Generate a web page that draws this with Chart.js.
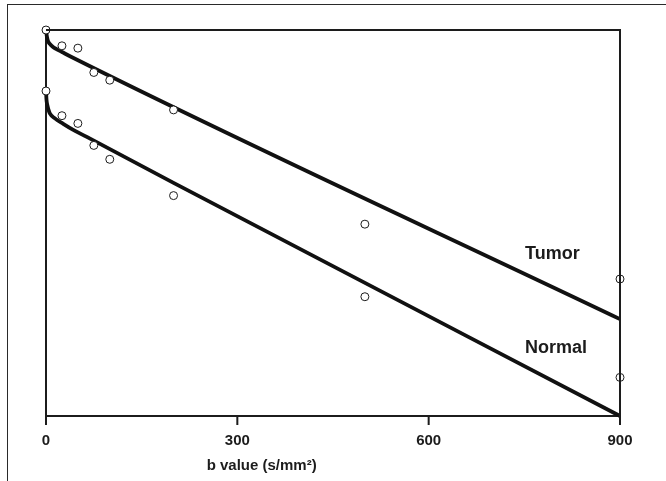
<!DOCTYPE html>
<html>
<head>
<meta charset="utf-8">
<style>
    html, body { margin: 0; padding: 0; background: #fff; overflow: hidden; }
    #wrap { position: relative; width: 666px; height: 481px; }
    #frame {
        position: absolute; left: 7px; top: 4px; right: 0; bottom: 0;
        border-left: 1px solid #2a2a2a; border-top: 1px solid #2a2a2a;
        pointer-events: none;
    }
</style>
<script src="https://cdn.jsdelivr.net/npm/chart.js@4/dist/chart.umd.min.js"></script>
</head>
<body>
<div id="wrap">
    <canvas id="ivim"></canvas>
    <div id="frame"></div>
</div>
<script>
// Measured signal (arbitrary units, axis unlabeled)
const bValues = [0, 25, 50, 75, 100, 200, 500, 900];
const tumorSignal = [100, 95.9, 95.3, 89.0, 87.0, 79.3, 49.7, 35.5];
const normalSignal = [84.2, 77.8, 75.8, 70.1, 66.5, 57.1, 30.9, 10.0];

// Fitted curves
const tumorFitB = [0, 1.5, 3, 6, 11, 17, 25, 40, 900];
const tumorFit = [100, 98.2, 97.2, 96.4, 95.6, 95.0, 94.3, 93.0, 25.1];
const normalFitB = [0, 0.8, 2, 4, 6, 14, 27, 42, 64, 200, 900];
const normalFit = [84.2, 81.9, 80.6, 79.3, 78.4, 77.1, 75.7, 74.2, 72.3, 60.4, 0];

const xTicks = [0, 300, 600, 900];
const seriesNames = ['Tumor', 'Normal'];
const xTitle = 'b value (s/mm\u00B2)';

const ink = '#1c1c1c';
const boldFont = '"Liberation Sans", Arial, sans-serif';

function toXY(xs, ys) {
    return xs.map((x, i) => ({ x: x, y: ys[i] }));
}

function pointSet(data) {
    return {
        data: data,
        showLine: false,
        pointRadius: 4,
        pointBorderWidth: 1,
        pointBorderColor: ink,
        pointBackgroundColor: '#fff',
        clip: false,
        order: 0
    };
}

function fitSet(data) {
    return {
        data: data,
        showLine: true,
        pointRadius: 0,
        borderColor: '#111',
        borderWidth: 3.8,
        cubicInterpolationMode: 'monotone',
        fill: false,
        clip: false,
        order: 1
    };
}

// box top/right, tick marks, series names, axis title
const decorations = {
    id: 'decorations',
    afterDatasetsDraw(chart) {
        const { ctx, chartArea: a, scales } = chart;
        ctx.save();
        ctx.strokeStyle = ink;
        ctx.lineWidth = 2;
        ctx.beginPath();
        ctx.moveTo(a.left, a.top);
        ctx.lineTo(a.right, a.top);
        ctx.lineTo(a.right, a.bottom);
        xTicks.forEach(v => {
            const px = scales.x.getPixelForValue(v);
            ctx.moveTo(px, a.bottom);
            ctx.lineTo(px, a.bottom + 9);
        });
        ctx.stroke();

        ctx.fillStyle = ink;
        ctx.font = 'bold 18px ' + boldFont;
        ctx.textAlign = 'left';
        ctx.textBaseline = 'middle';
        const lx = scales.x.getPixelForValue(751);
        ctx.fillText(seriesNames[0], lx, scales.y.getPixelForValue(42));
        ctx.fillText(seriesNames[1], lx, scales.y.getPixelForValue(17.7));

        ctx.font = 'bold 15px ' + boldFont;
        ctx.textAlign = 'center';
        ctx.fillText(xTitle, a.left + a.width * 0.3757, 466);
        ctx.restore();
    }
};

new Chart(document.getElementById('ivim'), {
    type: 'scatter',
    data: {
        datasets: [
            pointSet(toXY(bValues, tumorSignal)),
            pointSet(toXY(bValues, normalSignal)),
            fitSet(toXY(tumorFitB, tumorFit)),
            fitSet(toXY(normalFitB, normalFit))
        ]
    },
    options: {
        responsive: true,
        maintainAspectRatio: false,
        animation: false,
        layout: { padding: { left: 46, top: 30, right: 46, bottom: 0 } },
        plugins: {
            legend: { display: false },
            tooltip: { enabled: false }
        },
        scales: {
            x: {
                type: 'linear',
                min: 0,
                max: 900,
                afterFit(s) { s.height = 65; },
                afterBuildTicks(s) { s.ticks = xTicks.map(v => ({ value: v })); },
                ticks: {
                    color: ink,
                    padding: 8,
                    font: { family: boldFont, size: 15, weight: 'bold' },
                    maxRotation: 0
                },
                grid: { display: false },
                border: { display: true, color: ink, width: 2 }
            },
            y: {
                type: 'linear',
                min: 0,
                max: 100,
                afterFit(s) { s.width = 0; },
                ticks: { display: false },
                grid: { display: false },
                border: { display: true, color: ink, width: 2 }
            }
        }
    },
    plugins: [decorations]
});
</script>
</body>
</html>
